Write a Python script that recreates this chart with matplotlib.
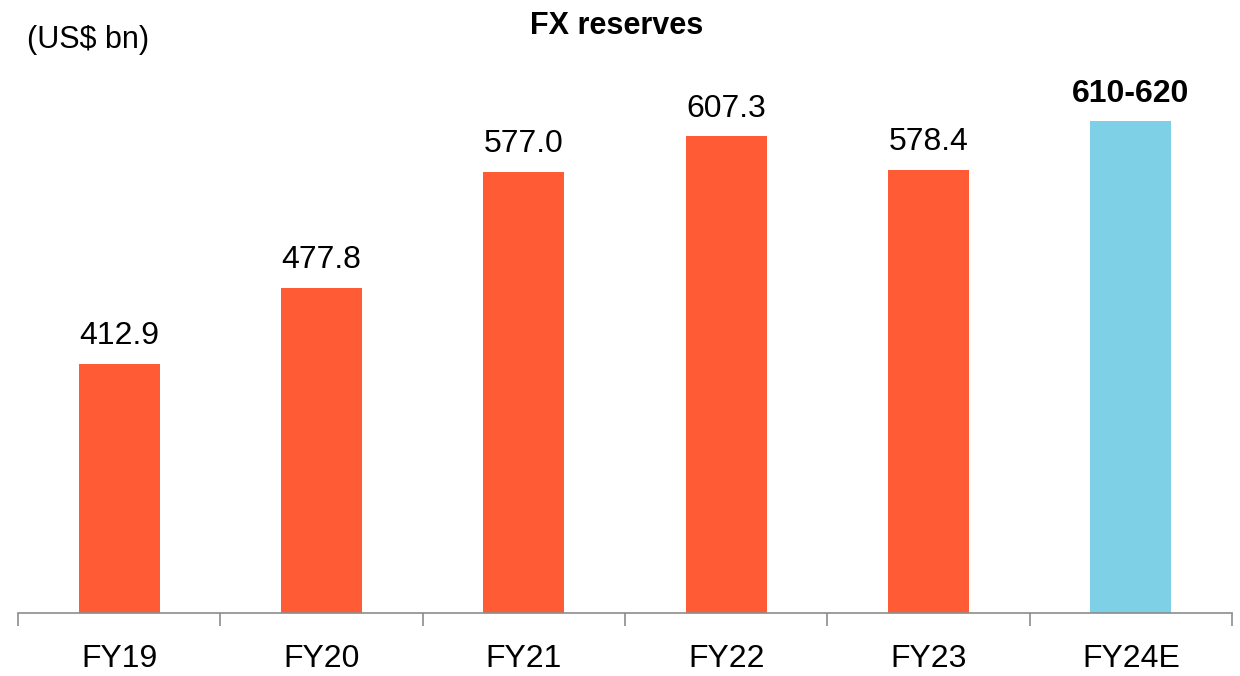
import matplotlib.pyplot as plt
from matplotlib import font_manager

years = ['FY19', 'FY20', 'FY21', 'FY22', 'FY23', 'FY24E']
reserves = [412.9, 477.8, 577.0, 607.3, 578.4, 620.0]
value_labels = ['412.9', '477.8', '577.0', '607.3', '578.4', '610-620']

names = {f.name for f in font_manager.fontManager.ttflist}
font = 'Liberation Sans Narrow' if 'Liberation Sans Narrow' in names else 'Liberation Sans'
plt.rcParams['font.family'] = [font, 'DejaVu Sans']

orange = '#FF5B35'
blue = '#7DD0E6'
colors = [orange] * 5 + [blue]

fig = plt.figure(figsize=(12.4, 6.76), dpi=100)
ymin, ymax = 200, 700
px_per_unit = 1.171
h = (ymax - ymin) * px_per_unit / 676
ax = fig.add_axes([18 / 1240, 63 / 676, 1214 / 1240, h])

x = range(len(years))
bars = ax.bar(x, reserves, width=0.4, color=colors, bottom=0)
ax.set_ylim(ymin, ymax)
ax.set_xlim(-0.5, len(years) - 0.5)

for i, (b, lab) in enumerate(zip(bars, value_labels)):
    ax.annotate(lab, (b.get_x() + b.get_width() / 2, b.get_height()),
                xytext=(0, 9), textcoords='offset points',
                ha='center', va='bottom', fontsize=23,
                fontweight='bold' if i == len(years) - 1 else 'normal')

for s in ['top', 'right', 'left']:
    ax.spines[s].set_visible(False)
ax.spines['bottom'].set_color('#8c8c8c')
ax.spines['bottom'].set_linewidth(1.2)
ax.set_yticks([])

ax.set_xticks([i - 0.5 for i in range(len(years) + 1)])
ax.set_xticklabels([])
ax.tick_params(axis='x', which='major', length=9, color='#8c8c8c', width=1.2)
ax.set_xticks(list(x), minor=True)
ax.set_xticklabels(years, minor=True, fontsize=23)
ax.tick_params(axis='x', which='minor', length=0, pad=22)

fig.text(617 / 1240, 1 - 26 / 676, 'FX reserves', ha='center', va='center',
         fontsize=22, fontweight='bold')
fig.text(27 / 1240, 1 - 40 / 676, '(US$ bn)', ha='left', va='center', fontsize=22)

fig.savefig('out.png', dpi=100)
